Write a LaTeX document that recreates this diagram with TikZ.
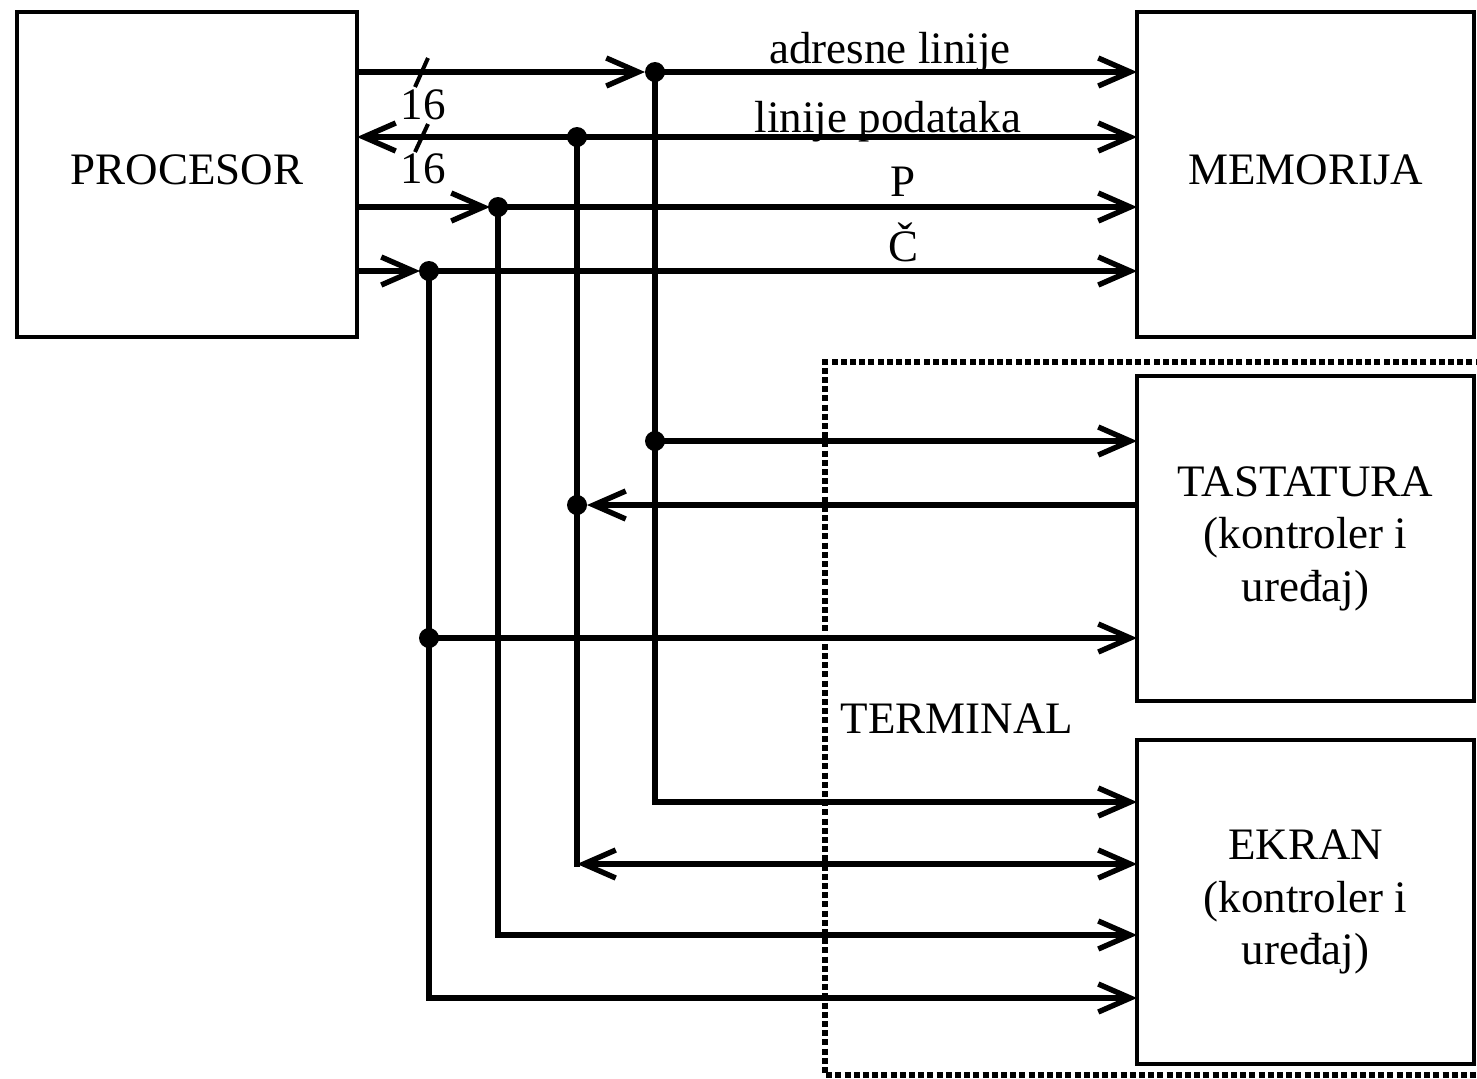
\documentclass[tikz,border=0pt]{standalone}
\usepackage{fontspec}
\setmainfont{Liberation Serif}
\usetikzlibrary{arrows.meta}
\begin{document}
\begin{tikzpicture}[x=0.5pt,y=-0.5pt,
  txt/.style={font=\fontsize{22.5}{26.25}\selectfont, inner sep=0pt},
  box/.style={draw, line width=1.8pt, outer sep=0pt, align=center,
    font=\fontsize{22.5}{26.25}\selectfont},
  bus/.style={line width=2.7pt},
  tip/.style={-{Straight Barb[length=16pt,width=14pt]}},
  tips/.style={{Straight Barb[length=16pt,width=14pt]}-{Straight Barb[length=16pt,width=14pt]}},
  dot/.style={fill=black},
  frame/.style={line width=2.8pt, dash pattern=on 3pt off 1.6pt}]
\useasboundingbox (0,0) rectangle (1477,1078);

% boxes
\node[box, minimum width=170pt, minimum height=162.5pt, text depth=5pt] (proc) at (187,174.5) {PROCESOR};
\node[box, minimum width=168.5pt, minimum height=162.5pt, text depth=5pt] (mem) at (1305.5,174.5) {MEMORIJA};
\node[box, minimum width=168.5pt, minimum height=162.5pt] (tast) at (1305.5,538.5) {TASTATURA\\(kontroler i\\uređaj)};
\node[box, minimum width=168.5pt, minimum height=162pt] (ekran) at (1305.5,902) {EKRAN\\(kontroler i\\uređaj)};

% terminal frame
\draw[frame] (1500,362) -- (825,362) -- (825,1075) -- (1500,1075);
\node[txt, anchor=base] (term) at (957,733) {TERMINAL};

% junctions
\coordinate (jA) at (655,72);  \coordinate (jA2) at (655,441); \coordinate (jA3) at (655,802);
\coordinate (jD) at (577,137); \coordinate (jD2) at (577,505); \coordinate (jD3) at (577,864);
\coordinate (jP) at (498,207); \coordinate (jP3) at (498,935);
\coordinate (jC) at (429,271); \coordinate (jC2) at (429,638); \coordinate (jC3) at (429,998);

% address lines
\draw[bus,tip] (proc.east |- jA) -- ([xshift=-5pt]jA);
\draw[bus,tip] (jA) -- (mem.west |- jA);
\draw[bus,tip] (jA2) -- (tast.west |- jA2);
\draw[bus,tip] (jA) -- (jA3) -- (ekran.west |- jA3);

% data lines
\draw[bus,tips] (proc.east |- jD) -- (mem.west |- jD);
\draw[bus] (jD) -- ([yshift=-1.35pt]jD3);
\draw[bus,tip] (tast.west |- jD2) -- ([xshift=5pt]jD2);
\draw[bus,tips] (jD3) -- (ekran.west |- jD3);

% P line
\draw[bus,tip] (proc.east |- jP) -- ([xshift=-4pt]jP);
\draw[bus,tip] (jP) -- (mem.west |- jP);
\draw[bus,tip] (jP) -- (jP3) -- (ekran.west |- jP3);

% C line
\draw[bus,tip] (proc.east |- jC) -- ([xshift=-4.5pt]jC);
\draw[bus,tip] (jC) -- (mem.west |- jC);
\draw[bus,tip] (jC2) -- (tast.west |- jC2);
\draw[bus,tip] (jC) -- (jC3) -- (ekran.west |- jC3);

% dots
\foreach \p in {jA,jA2,jD,jD2,jP,jC,jC2} \fill[dot] (\p) circle (5pt);

% slashes and widths
\draw[line width=2pt] (428,58) -- (415,87);
\draw[line width=2pt] (428,124) -- (415,152);
\node[txt, anchor=base] (w1) at (423,119) {16};
\node[txt, anchor=base] (w2) at (423,183) {16};

% labels
\node[txt, anchor=base] (la) at (890,63) {adresne linije};
\node[txt, anchor=base] (ld) at (888,132) {linije podataka};
\node[txt, anchor=base] (lp) at (903,196) {P};
\node[txt, anchor=base] (lc) at (903,261) {Č};
\end{tikzpicture}
\end{document}
